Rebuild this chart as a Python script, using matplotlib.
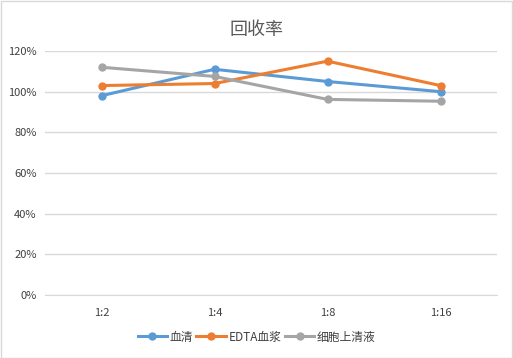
import matplotlib
matplotlib.use("Agg")
import matplotlib.pyplot as plt
from matplotlib.ticker import FuncFormatter

plt.rcParams['font.family'] = ['Noto Sans CJK SC', 'DejaVu Sans']

categories = ["1:2", "1:4", "1:8", "1:16"]
serum = [98.0, 111.0, 105.0, 100.0]
edta = [103.0, 104.0, 115.0, 103.0]
supernatant = [112.0, 107.5, 96.2, 95.3]
series_names = ["血清", "EDTA血浆", "细胞上清液"]
colors = ["#5B9BD5", "#ED7D31", "#A5A5A5"]

fig = plt.figure(figsize=(5.13, 3.58), dpi=100)
ax = fig.add_axes([45/513, 1-295/358, 452/513, (295-51)/358])

x = list(range(len(categories)))
for vals, name, c in zip([serum, edta, supernatant], series_names, colors):
    ax.plot(x, vals, color=c, lw=2.2, marker='o', ms=5, label=name)

ax.set_xlim(-0.5, len(categories) - 0.5)
ax.set_ylim(0, 120)
ax.set_yticks(range(0, 121, 20))
ax.yaxis.set_major_formatter(FuncFormatter(lambda v, p: f"{int(v)}%"))
ax.set_xticks(x)
ax.set_xticklabels(categories)
ax.grid(axis='y', color='#D9D9D9', lw=1)
ax.set_axisbelow(True)
for s in ['top', 'right', 'left']:
    ax.spines[s].set_visible(False)
ax.spines['bottom'].set_color('#D9D9D9')
ax.tick_params(length=0, labelsize=8, colors='#404040', pad=6)
ax.tick_params(axis='x', pad=9)

fig.text(0.5, 1-30/358, "回收率", ha='center', va='center', fontsize=13, color='#595959')
fig.legend(loc='center', bbox_to_anchor=(0.5, 1-337/358), ncol=3, frameon=False,
           fontsize=8.5, handlelength=2.5, columnspacing=0.3, handletextpad=0.2,
           labelcolor='#404040')

fig.patches.append(plt.Rectangle((0.001, 0.001), 0.997, 0.997, transform=fig.transFigure,
                                 fill=False, edgecolor='#D9D9D9', lw=1))
fig.savefig("out.png", dpi=100, facecolor='white')
